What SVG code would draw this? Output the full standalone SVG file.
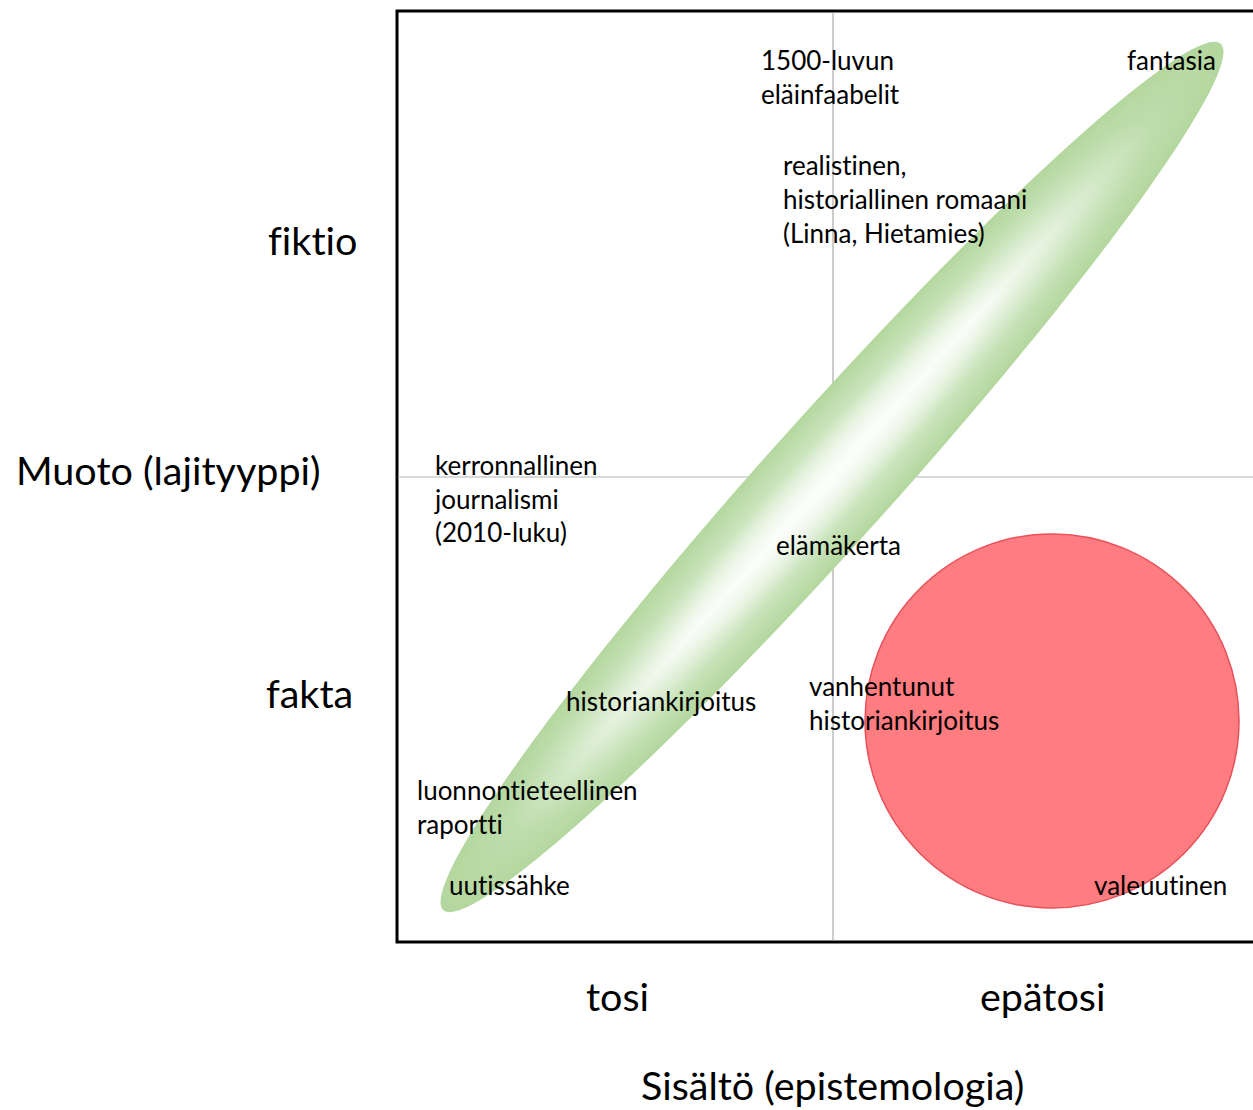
<svg xmlns="http://www.w3.org/2000/svg" width="1253" height="1110" viewBox="0 0 1253 1110">
<style>
text{font-variant-ligatures:none;font-feature-settings:"liga" 0,"clig" 0}
.s{font-family:Lato,"Open Sans",sans-serif;font-size:26px;fill:#000}
.b{font-family:Lato,"Open Sans",sans-serif;font-size:39.5px;fill:#000}
</style>
<defs>
<radialGradient id="g" cx="0.5" cy="0.5" r="0.5">
<stop offset="0" stop-color="#eef7ea"/>
<stop offset="0.5" stop-color="#cfe7c2"/>
<stop offset="1" stop-color="#b3d79e"/>
</radialGradient>
<linearGradient id="streak" x1="0" y1="0" x2="0" y2="1">
<stop offset="0.2" stop-color="#fff" stop-opacity="0"/>
<stop offset="0.5" stop-color="#fff" stop-opacity="0.85"/>
<stop offset="0.8" stop-color="#fff" stop-opacity="0"/>
</linearGradient>
<radialGradient id="mg" cx="0.5" cy="0.5" r="0.5">
<stop offset="0" stop-color="#fff"/>
<stop offset="0.35" stop-color="#fff"/>
<stop offset="0.8" stop-color="#000"/>
</radialGradient>
<mask id="m" maskContentUnits="userSpaceOnUse">
<rect x="-600" y="-80" width="1200" height="160" fill="url(#mg)"/>
</mask>
</defs>
<rect width="1253" height="1110" fill="#fff"/>
<g id="frame">
<path d="M1260 11 H397 V942 H1260" fill="none" stroke="#000" stroke-width="3"/>
</g>
<g id="axes">
<line x1="833" y1="12" x2="833" y2="941" stroke="#9a9a9a" stroke-width="1"/>
<line x1="398" y1="477" x2="1253" y2="477" stroke="#b4b4b4" stroke-width="1"/>
</g>
<g id="true-ellipse" transform="translate(832,477) rotate(-48.1)">
<ellipse cx="0" cy="0" rx="582" ry="63" fill="url(#g)"/>
<ellipse cx="0" cy="0" rx="582" ry="63" fill="url(#streak)" mask="url(#m)"/>
</g>
<g id="false-circle">
<circle cx="1052" cy="721" r="187" fill="#ff7c80" stroke="#e8505a" stroke-width="1.5"/>
</g>
<g id="labels">
<text class="s" x="761" y="70">1500-luvun</text>
<text class="s" x="761" y="104">eläinfaabelit</text>
<text class="s" x="1127" y="70">fantasia</text>
<text class="s" x="783" y="175">realistinen,</text>
<text class="s" x="783" y="209">historiallinen romaani</text>
<text class="s" x="783" y="243">(Linna, Hietamies)</text>
<text class="s" x="435" y="475">kerronnallinen</text>
<text class="s" x="435" y="509">journalismi</text>
<text class="s" x="435" y="542">(2010-luku)</text>
<text class="s" x="776" y="555">elämäkerta</text>
<text class="s" x="566" y="711">historiankirjoitus</text>
<text class="s" x="809" y="696">vanhentunut</text>
<text class="s" x="809" y="730">historiankirjoitus</text>
<text class="s" x="417" y="800">luonnontieteellinen</text>
<text class="s" x="417" y="834">raportti</text>
<text class="s" x="449" y="895">uutissähke</text>
<text class="s" x="1094" y="895">valeuutinen</text>
</g>
<g id="axis-labels">
<text class="b" x="268" y="255">fiktio</text>
<text class="b" x="16" y="485">Muoto (lajityyppi)</text>
<text class="b" x="266" y="708">fakta</text>
<text class="b" x="586" y="1011">tosi</text>
<text class="b" x="980" y="1011">epätosi</text>
<text class="b" x="641" y="1100">Sisältö (epistemologia)</text>
</g>
</svg>
